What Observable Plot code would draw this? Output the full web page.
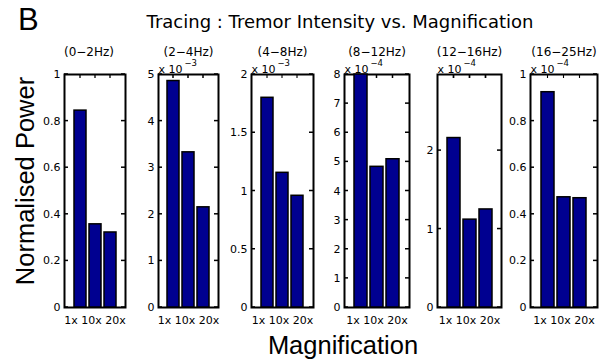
<!DOCTYPE html>
<html>
<head>
<meta charset="utf-8">
<script src="https://cdn.jsdelivr.net/npm/d3@7"></script>
<script src="https://cdn.jsdelivr.net/npm/@observablehq/plot@0.6"></script>
<style>
  html, body { margin: 0; padding: 0; background: #fff; }
  #fig { position: relative; width: 605px; height: 364px; overflow: hidden; background: #fff; }
  #fig svg.panel { position: absolute; }
  .lbl { position: absolute; left: 0; top: 0; white-space: nowrap; line-height: 1; transform-origin: 0 0; color: #000; }
</style>
</head>
<body>
<div id="fig"></div>
<script>
// ---------- data ----------
const mainTitle = "Tracing : Tremor Intensity vs. Magnification";
const panelLetter = "B";
const yLabel = "Normalised Power";
const xLabel = "Magnification";
const bands = ["(0−2Hz)", "(2−4Hz)", "(4−8Hz)", "(8−12Hz)", "(12−16Hz)", "(16−25Hz)"];
const mags = ["1x", "10x", "20x"];
// values in the units shown on each axis (multiplied by the axis exponent)
const power_0_2Hz   = [0.845, 0.357, 0.322];
const power_2_4Hz   = [4.86, 3.33, 2.15];   // x 10^-3
const power_4_8Hz   = [1.80, 1.156, 0.959]; // x 10^-3
const power_8_12Hz  = [8.0, 4.83, 5.09];    // x 10^-4
const power_12_16Hz = [2.16, 1.12, 1.25];   // x 10^-4
const power_16_25Hz = [0.924, 0.473, 0.469];// x 10^-4
const series = [power_0_2Hz, power_2_4Hz, power_4_8Hz, power_8_12Hz, power_12_16Hz, power_16_25Hz];
const yMax = [1, 5, 2, 8, 2.97, 1];
const yTicks = [
  [0, 0.2, 0.4, 0.6, 0.8, 1],
  [0, 1, 2, 3, 4, 5],
  [0, 0.5, 1, 1.5, 2],
  [0, 1, 2, 3, 4, 5, 6, 7, 8],
  [0, 1, 2],
  [0, 0.2, 0.4, 0.6, 0.8, 1]
];
const exponents = [null, -3, -3, -4, -4, -4];

// ---------- layout ----------
const panelLeft  = [64, 158, 251, 344, 437, 530];
const panelRight = [125, 218, 313, 409, 501, 597];
const panelTop = 74, panelBottom = 307;
const titleDx = [-6, 0, 0, 0, 0, 0];
const barFill = "#000090";

const fig = document.getElementById("fig");

series.forEach((vals, i) => {
  const W = panelRight[i] - panelLeft[i];
  const H = panelBottom - panelTop;
  const ml = 30, mr = 2, mt = 36, mb = 26;
  const bw = 0.8 * W / 4;           // band width of the x scale below
  const tl = 4, tw = 0.75;          // tick length, half tick width
  const data = mags.map((m, j) => ({mag: m, value: vals[j]}));
  const marks = [
    // box: black frame with white inner frame (2px border)
    Plot.frame({fill: "black", inset: -1}),
    Plot.frame({fill: "white", inset: 1}),
    // inward ticks (left, right, top)
    Plot.rect(yTicks[i], {y1: d => d, y2: d => d, insetTop: -tw, insetBottom: -tw, insetRight: W - tl, fill: "black"}),
    Plot.rect(yTicks[i], {y1: d => d, y2: d => d, insetTop: -tw, insetBottom: -tw, insetLeft: W - tl, fill: "black"}),
    Plot.rect(mags, {x: d => d, insetLeft: bw / 2 - tw, insetRight: bw / 2 - tw, insetBottom: H - tl, fill: "black"}),
    // bars with black outline
    Plot.barY(data, {x: "mag", y: "value", fill: "black", insetLeft: -0.75, insetRight: -0.75, insetTop: -0.75}),
    Plot.barY(data, {x: "mag", y: "value", fill: barFill, inset: 0.75}),
    Plot.axisY({ticks: yTicks[i], tickSize: 0, tickPadding: 4, fontSize: 11, label: null, tickFormat: d => String(d)}),
    Plot.text([mags.join(" ")], {text: d => d, frameAnchor: "bottom", lineAnchor: "top", dy: 9, fontSize: 11}),
    Plot.text([bands[i]], {text: d => d, frameAnchor: "top", lineAnchor: "bottom", dy: -19, dx: titleDx[i], fontSize: 12})
  ];
  if (exponents[i] != null) {
    marks.push(Plot.text(["x 10"], {text: d => d, frameAnchor: "top-left", textAnchor: "start", lineAnchor: "bottom", dy: -2, fontSize: 11}));
    marks.push(Plot.text([String(exponents[i]).replace("-", "−")], {text: d => d, frameAnchor: "top-left", textAnchor: "start", lineAnchor: "bottom", dx: 26, dy: -9, fontSize: 8.5}));
  }
  const p = Plot.plot({
    width: W + ml + mr,
    height: H + mt + mb,
    marginLeft: ml, marginRight: mr, marginTop: mt, marginBottom: mb,
    x: {type: "band", domain: mags, paddingInner: 0.2, paddingOuter: 0.6, axis: null},
    y: {domain: [0, yMax[i]], axis: null},
    style: {fontFamily: "DejaVu Sans", fontSize: "11px"},
    marks
  });
  p.classList.add("panel");
  p.style.left = (panelLeft[i] - ml) + "px";
  p.style.top = (panelTop - mt) + "px";
  fig.appendChild(p);
});

// figure-level texts (HTML), placed by baseline point
function label(text, x, y, size, family, anchor, rotate) {
  const d = document.createElement("div");
  d.className = "lbl";
  d.textContent = text;
  d.style.fontSize = size + "px";
  d.style.fontFamily = family;
  const ax = anchor === "middle" ? "-50%" : "0";
  d.style.transform = `translate(${x}px, ${y}px) rotate(${rotate || 0}deg) translate(${ax}, -0.846em)`;
  fig.appendChild(d);
}
label(panelLetter, 18, 30, 31, "Liberation Sans", "start");
label(mainTitle, 340, 28, 18, "DejaVu Sans", "middle");
label(yLabel, 35, 181, 25.5, "Liberation Sans", "middle", -90);
label(xLabel, 343, 355, 25.5, "Liberation Sans", "middle");
</script>
</body>
</html>
